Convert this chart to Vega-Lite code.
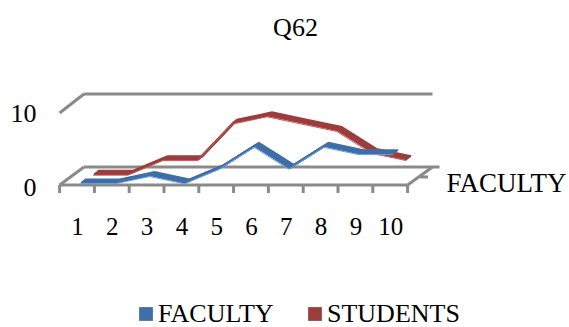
{
  "$schema": "https://vega.github.io/schema/vega-lite/v6.json",
  "width": 569,
  "height": 327,
  "autosize": "none",
  "padding": 0,
  "background": "white",
  "title": {"text": "Q62", "font": "Liberation Serif", "fontSize": 26, "fontWeight": "normal", "color": "#000000", "anchor": "middle", "frame": "group", "baseline": "alphabetic", "offset": -62, "dx": 11},
  "config": {"view": {"stroke": null}},
  "datasets": {
    "scores": [
      {"item": 1, "count": 0, "group": "FACULTY"},
      {"item": 2, "count": 0, "group": "FACULTY"},
      {"item": 3, "count": 1, "group": "FACULTY"},
      {"item": 4, "count": 0, "group": "FACULTY"},
      {"item": 5, "count": 2, "group": "FACULTY"},
      {"item": 6, "count": 5, "group": "FACULTY"},
      {"item": 7, "count": 2, "group": "FACULTY"},
      {"item": 8, "count": 5, "group": "FACULTY"},
      {"item": 9, "count": 4, "group": "FACULTY"},
      {"item": 10, "count": 4, "group": "FACULTY"},
      {"item": 1, "count": 0, "group": "STUDENTS"},
      {"item": 2, "count": 0, "group": "STUDENTS"},
      {"item": 3, "count": 2, "group": "STUDENTS"},
      {"item": 4, "count": 2, "group": "STUDENTS"},
      {"item": 5, "count": 7, "group": "STUDENTS"},
      {"item": 6, "count": 8, "group": "STUDENTS"},
      {"item": 7, "count": 7, "group": "STUDENTS"},
      {"item": 8, "count": 6, "group": "STUDENTS"},
      {"item": 9, "count": 3, "group": "STUDENTS"},
      {"item": 10, "count": 2, "group": "STUDENTS"}
    ],
    "box": [
      {"part": "front floor", "item": 0.5, "count": 0},
      {"part": "front floor", "item": 10.5, "count": 0},
      {"part": "left floor", "item": 0.5, "count": 0},
      {"part": "left floor", "item": 1.2, "count": 2.466},
      {"part": "right floor", "item": 10.5, "count": 0},
      {"part": "right floor", "item": 11.216, "count": 2.466},
      {"part": "back floor", "item": 1.2, "count": 2.466},
      {"part": "back floor", "item": 11.417, "count": 2.466},
      {"part": "back top", "item": 1.2, "count": 12.466},
      {"part": "back top", "item": 11.216, "count": 12.466},
      {"part": "left top", "item": 0.5, "count": 9.86},
      {"part": "left top", "item": 1.2, "count": 12.466},
      {"part": "depth tick", "item": 10.856, "count": 1.1},
      {"part": "depth tick", "item": 11.086, "count": 1.1},
      {"part": "tick 0", "item": 0.5, "count": 0},
      {"part": "tick 0", "item": 0.5, "count": -1.1},
      {"part": "tick 1", "item": 1.5, "count": 0},
      {"part": "tick 1", "item": 1.5, "count": -1.1},
      {"part": "tick 2", "item": 2.5, "count": 0},
      {"part": "tick 2", "item": 2.5, "count": -1.1},
      {"part": "tick 3", "item": 3.5, "count": 0},
      {"part": "tick 3", "item": 3.5, "count": -1.1},
      {"part": "tick 4", "item": 4.5, "count": 0},
      {"part": "tick 4", "item": 4.5, "count": -1.1},
      {"part": "tick 5", "item": 5.5, "count": 0},
      {"part": "tick 5", "item": 5.5, "count": -1.1},
      {"part": "tick 6", "item": 6.5, "count": 0},
      {"part": "tick 6", "item": 6.5, "count": -1.1},
      {"part": "tick 7", "item": 7.5, "count": 0},
      {"part": "tick 7", "item": 7.5, "count": -1.1},
      {"part": "tick 8", "item": 8.5, "count": 0},
      {"part": "tick 8", "item": 8.5, "count": -1.1},
      {"part": "tick 9", "item": 9.5, "count": 0},
      {"part": "tick 9", "item": 9.5, "count": -1.1},
      {"part": "tick 10", "item": 10.5, "count": 0},
      {"part": "tick 10", "item": 10.5, "count": -1.1}
    ]
  },
  "encoding": {
    "x": {
      "field": "item",
      "type": "quantitative",
      "scale": {"domain": [-1.213, 15.138], "nice": false, "zero": false},
      "axis": {
        "values": [1, 2, 3, 4, 5, 6, 7, 8, 9, 10],
        "offset": -142,
        "grid": false,
        "ticks": false,
        "domain": false,
        "labelPadding": 29,
        "labelFont": "Liberation Serif",
        "labelFontSize": 25,
        "labelColor": "#000000",
        "labelFlush": false,
        "labelOverlap": false,
        "title": "FACULTY",
        "titleFont": "Liberation Serif",
        "titleFontSize": 27,
        "titleFontWeight": "normal",
        "titleColor": "#000000",
        "titleAlign": "left",
        "titleBaseline": "middle",
        "titleX": 446,
        "titleY": -2
      }
    },
    "y": {
      "field": "count",
      "type": "quantitative",
      "scale": {"domain": [-19.45, 25.34], "nice": false, "zero": false},
      "axis": {
        "values": [0, 10],
        "offset": -36,
        "grid": false,
        "ticks": false,
        "domain": false,
        "labelPadding": 0,
        "labelFont": "Liberation Serif",
        "labelFontSize": 26,
        "labelColor": "#000000",
        "labelOffset": 2,
        "title": null
      }
    }
  },
  "layer": [
    {
      "data": {"name": "box"},
      "mark": {"type": "line", "stroke": "#8a8a8a", "strokeWidth": 3, "strokeCap": "butt", "strokeJoin": "miter", "clip": false},
      "encoding": {"detail": {"field": "part"}}
    },
    {
      "data": {"name": "scores"},
      "transform": [{"filter": "datum.group === 'STUDENTS'"}],
      "encoding": {
        "color": {
          "field": "group",
          "type": "nominal",
          "scale": {"domain": ["FACULTY", "STUDENTS"], "range": ["#3f6ea8", "#9c3d3d"]},
          "legend": {
            "orient": "none",
            "legendX": 133,
            "legendY": 301,
            "direction": "horizontal",
            "columns": 2,
            "title": null,
            "symbolType": "square",
            "symbolSize": 190,
            "symbolStrokeWidth": 0,
            "labelFont": "Liberation Serif",
            "labelFontSize": 26,
            "labelColor": "#000000",
            "labelOffset": -1,
            "columnPadding": 28,
            "encode": {"symbols": {"update": {"fill": {"scale": "color", "field": "value"}, "opacity": {"value": 1}}}}
          }
        }
      },
      "layer": [
        {"mark": {"type": "line", "strokeWidth": 2, "xOffset": 21, "yOffset": -14.2}},
        {"mark": {"type": "line", "strokeWidth": 2, "xOffset": 20, "yOffset": -13.4}},
        {"mark": {"type": "line", "strokeWidth": 2, "xOffset": 19, "yOffset": -12.6}},
        {"mark": {"type": "line", "strokeWidth": 2, "xOffset": 18, "yOffset": -11.8}},
        {"mark": {"type": "line", "strokeWidth": 2, "xOffset": 17, "yOffset": -11}},
        {"mark": {"type": "line", "strokeWidth": 1, "xOffset": 16, "yOffset": -9.8}, "encoding": {"color": {"value": "#c9595a"}}}
      ]
    },
    {
      "data": {"name": "scores"},
      "transform": [{"filter": "datum.group === 'FACULTY'"}],
      "encoding": {
        "color": {"field": "group", "type": "nominal", "scale": {"domain": ["FACULTY", "STUDENTS"], "range": ["#3f6ea8", "#9c3d3d"]}}
      },
      "layer": [
        {"mark": {"type": "line", "strokeWidth": 2, "xOffset": 8, "yOffset": -5.6}},
        {"mark": {"type": "line", "strokeWidth": 2, "xOffset": 7, "yOffset": -4.8}},
        {"mark": {"type": "line", "strokeWidth": 2, "xOffset": 6, "yOffset": -4}},
        {"mark": {"type": "line", "strokeWidth": 2, "xOffset": 5, "yOffset": -3.2}},
        {"mark": {"type": "line", "strokeWidth": 2, "xOffset": 4, "yOffset": -2.4}},
        {"mark": {"type": "line", "strokeWidth": 1, "xOffset": 3, "yOffset": -1.2}, "encoding": {"color": {"value": "#6d9fdc"}}}
      ]
    }
  ]
}
